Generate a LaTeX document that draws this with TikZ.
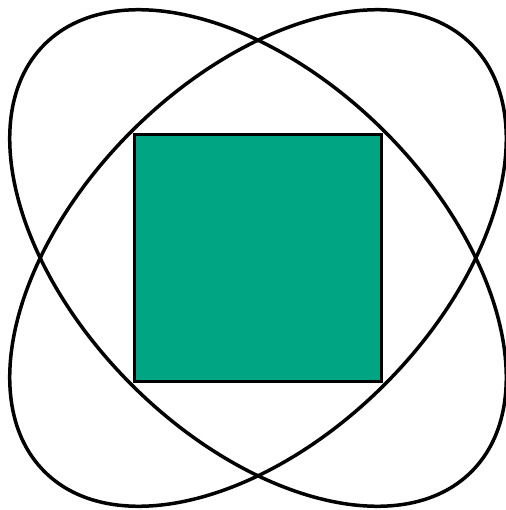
\documentclass[tikz,border=0pt]{standalone}
\usepackage{xcolor}
\usepackage{tikz}

\definecolor{verde}{RGB}{0,166,132}

\begin{document}
\begin{tikzpicture}[x=1pt, y=-1pt, line width=3.5pt]

\useasboundingbox (0,0) rectangle (505,510);

% Cuadro
\node[draw=black, fill=verde, minimum size=247pt, inner sep=0pt] (cuadro) at (258,258) {};

% Elipses
\foreach \ang in {45,-45} {
    \draw[rotate around={\ang:(cuadro.center)}] (cuadro.center) ellipse [x radius=302, y radius=179];
}

\end{tikzpicture}
\end{document}
